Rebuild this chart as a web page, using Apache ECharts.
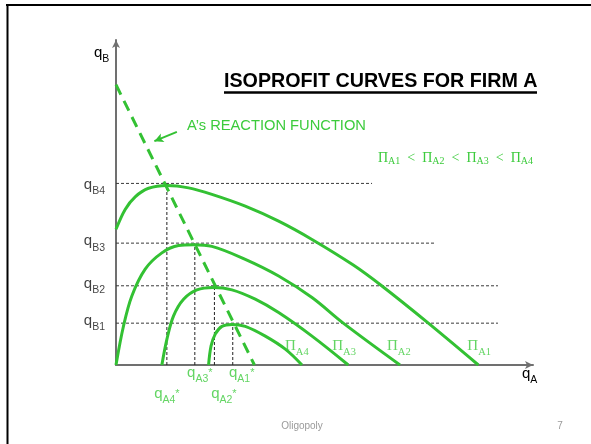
<!DOCTYPE html>
<html>
<head>
<meta charset="utf-8">
<script src="https://cdn.jsdelivr.net/npm/echarts@6/dist/echarts.min.js"></script>
<style>
html, body { margin: 0; padding: 0; background: #fff; }
#chart { width: 591px; height: 444px; }
</style>
</head>
<body>
<div id="chart"></div>
<script>
// isoprofit curves for firm A (qA on x, qB on y)
var qAMax = 100;
var qBMax = 80;
var qBLevels = [10.3, 19.5, 30.0, 44.7];      // qB1..qB4
var qAStar = [28.0, 23.6, 18.9, 12.2];        // qA1*..qA4*
var hLineEnds = [91.6, 91.6, 76.5, 61.4];     // where the dashed qB lines stop
var reactionLine = [[0, 69], [33.2, 0]];
var reactionArrow = [[14.6, 57.4], [9.2, 55.1]];
var curveNames = ['A1', 'A2', 'A3', 'A4'];
var curveA1 = [[0, 33.4], [2.2, 38.3], [4.6, 41.4], [7.8, 43.5], [12.2, 44.2], [17.4, 43.6], [23.0, 42.0], [31.0, 39.1], [39.0, 35.4], [47.0, 30.9], [56.9, 24.6], [63.7, 19.5], [74.9, 10.3], [86.9, 0]];
var curveA2 = [[0, 0], [1.8, 9.6], [3.8, 17.0], [7.0, 23.6], [11.0, 27.6], [15.0, 29.4], [18.6, 29.6], [23.0, 29.2], [31.0, 26.0], [39.0, 21.9], [47.0, 16.6], [54.5, 10.3], [68.1, 0]];
var curveA3 = [[11.0, 0], [12.2, 6.3], [13.8, 12.1], [16.2, 16.2], [19.4, 18.5], [23.4, 19.1], [27.8, 18.5], [33.4, 16.2], [39.0, 12.9], [47.0, 7.1], [55.7, 0]];
var curveA4 = [[22.2, 0], [22.8, 4.7], [23.8, 7.6], [25.4, 9.5], [27.8, 10.0], [31.0, 9.5], [35.8, 7.1], [40.6, 3.9], [44.6, 0]];

var green = '#33c133';
var textGreen = '#3ccb3c';
var sans = '"Liberation Sans", Arial, sans-serif';
var serif = '"Liberation Serif", "Times New Roman", serif';

var qRich = {
	q: { fontSize: 15, fontFamily: sans, color: '#111' },
	s: { fontSize: 10.5, fontFamily: sans, color: '#111', verticalAlign: 'bottom', lineHeight: 24 }
};
var qGreenRich = {
	q: { fontSize: 15, fontFamily: sans, color: textGreen },
	s: { fontSize: 10.5, fontFamily: sans, color: textGreen, verticalAlign: 'bottom', lineHeight: 24 },
	st: { fontSize: 11, fontFamily: sans, color: textGreen, verticalAlign: 'middle' }
};
var piRich = {
	p: { fontSize: 15, fontFamily: serif, color: textGreen },
	s: { fontSize: 10.5, fontFamily: serif, color: textGreen, verticalAlign: 'bottom', lineHeight: 24 }
};

var chart = echarts.init(document.getElementById('chart'));
var series = [];

// dashed qB levels and dashed drops to qA*
for (var i = 0; i < qBLevels.length; i++) {
	series.push({
		type: 'line', silent: true, symbol: 'none', z: 1,
		data: [[0, qBLevels[i]], [hLineEnds[i], qBLevels[i]]],
		lineStyle: { color: '#3a3a3a', width: 1, type: [3, 2] }
	});
	series.push({
		type: 'line', silent: true, symbol: 'none', z: 1,
		data: [[qAStar[i], 0], [qAStar[i], qBLevels[i]]],
		lineStyle: { color: '#222', width: 1, type: [3, 2] }
	});
}

// isoprofit curves
var curves = [curveA1, curveA2, curveA3, curveA4];
for (var k = 0; k < curves.length; k++) {
	series.push({
		name: curveNames[k], type: 'line', silent: true, symbol: 'none', z: 3,
		smooth: 0.35,
		data: curves[k],
		lineStyle: { color: green, width: 3 }
	});
}

// reaction function
series.push({
	type: 'line', silent: true, symbol: 'none', z: 4,
	data: reactionLine,
	lineStyle: { color: green, width: 3, type: [11, 7] },
	markLine: {
		silent: true, symbol: ['none', 'arrow'], symbolSize: [7, 9],
		label: { show: false },
		lineStyle: { color: green, width: 2, type: 'solid' },
		data: [[{ coord: reactionArrow[0] }, { coord: reactionArrow[1] }]]
	}
});

// qB tick labels
var qBdy = [-2.5, -2, -2, 1.5];
series.push({
	type: 'scatter', silent: true, symbolSize: 0, z: 5,
	data: qBLevels.map(function(v, i) {
		return {
			value: [0, v],
			label: { offset: [-11, qBdy[i]] }
		};
	}),
	label: {
		show: true, position: 'inside', align: 'right', verticalAlign: 'middle',
		formatter: function(p) { return '{q|q}{s|B' + (p.dataIndex + 1) + '}'; },
		rich: qRich
	}
});

// qA* labels, two rows
var starOffsets = [[9, 8], [9.5, 29], [5, 8], [0, 29]];
series.push({
	type: 'scatter', silent: true, symbolSize: 0, z: 5,
	data: qAStar.map(function(v, i) {
		return { value: [v, 0], label: { offset: starOffsets[i] } };
	}),
	label: {
		show: true, position: 'inside', align: 'center', verticalAlign: 'middle',
		formatter: function(p) { return '{q|q}{s|A' + (p.dataIndex + 1) + '}{st|*}'; },
		rich: qGreenRich
	}
});

// Π labels next to the curve ends
var piOffsets = [[-11, -19], [-13, -19], [-16, -19], [-17, -19]];
series.push({
	type: 'scatter', silent: true, symbolSize: 0, z: 5,
	data: curves.map(function(c, i) {
		return { value: c[c.length - 1], label: { offset: piOffsets[i] } };
	}),
	label: {
		show: true, position: 'inside', align: 'left', verticalAlign: 'middle',
		formatter: function(p) { return '{p|Π}{s|' + curveNames[p.dataIndex] + '}'; },
		rich: piRich
	}
});

var option = {
	animation: false,
	grid: { left: 116, top: 40, width: 417, height: 325 },
	xAxis: {
		type: 'value', min: 0, max: qAMax,
		axisLine: { show: true, symbol: ['none', 'arrow'], symbolSize: [6, 8], lineStyle: { color: '#707070', width: 2 } },
		axisTick: { show: false }, axisLabel: { show: false }, splitLine: { show: false }
	},
	yAxis: {
		type: 'value', min: 0, max: qBMax,
		axisLine: { show: true, symbol: ['none', 'arrow'], symbolSize: [6, 8], lineStyle: { color: '#707070', width: 2 } },
		axisTick: { show: false }, axisLabel: { show: false }, splitLine: { show: false }
	},
	graphic: [
		// slide frame
		{ type: 'line', shape: { x1: 6, y1: 5, x2: 591, y2: 5 }, style: { stroke: '#000', lineWidth: 2 } },
		{ type: 'line', shape: { x1: 7.5, y1: 4, x2: 7.5, y2: 444 }, style: { stroke: '#000', lineWidth: 2 } },
		// title
		{ type: 'text', x: 224, y: 82, style: { text: 'ISOPROFIT CURVES FOR FIRM A', font: 'bold 19.7px ' + sans, fill: '#000', verticalAlign: 'middle' } },
		{ type: 'line', shape: { x1: 224, y1: 92.5, x2: 537, y2: 92.5 }, style: { stroke: '#000', lineWidth: 2.5 } },
		{ type: 'text', x: 187, y: 126, style: { text: 'A’s REACTION FUNCTION', font: '14.7px ' + sans, fill: textGreen, verticalAlign: 'middle' } },
		{ type: 'text', x: 378, y: 158, style: {
			text: '{p|Π}{s|A1}{p|  <  }{p|Π}{s|A2}{p|  <  }{p|Π}{s|A3}{p|  <  }{p|Π}{s|A4}',
			verticalAlign: 'middle',
			rich: {
				p: { fontSize: 14, fontFamily: serif, fill: textGreen, color: textGreen },
				s: { fontSize: 10, fontFamily: serif, fill: textGreen, color: textGreen, verticalAlign: 'bottom', lineHeight: 17 }
			}
		} },
		// axis names
		{ type: 'text', x: 94, y: 53, style: { text: '{q|q}{s|B}', verticalAlign: 'middle', rich: qRich } },
		{ type: 'text', x: 522, y: 374, style: { text: '{q|q}{s|A}', verticalAlign: 'middle', rich: qRich } },
		// footer
		{ type: 'text', x: 302, y: 426, style: { text: 'Oligopoly', font: '10px ' + sans, fill: '#9a9a9a', align: 'center', verticalAlign: 'middle' } },
		{ type: 'text', x: 560, y: 426, style: { text: '7', font: '10px ' + sans, fill: '#9a9a9a', align: 'center', verticalAlign: 'middle' } }
	],
	series: series
};

chart.setOption(option);
</script>
</body>
</html>
